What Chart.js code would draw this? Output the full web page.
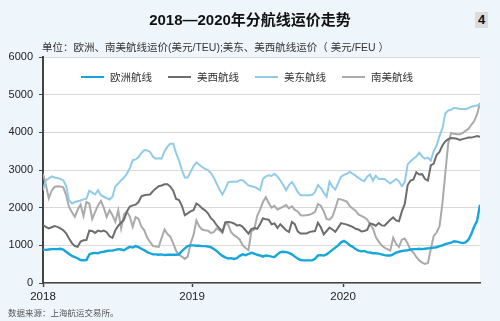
<!DOCTYPE html>
<html lang="zh">
<head>
<meta charset="utf-8">
<title>2018—2020年分航线运价走势</title>
<script src="https://cdn.jsdelivr.net/npm/chart.js@4.4.1/dist/chart.umd.min.js"></script>
<style>
    body { margin: 0; background: #eef6fb; }
    #contenedor { position: relative; width: 500px; height: 321px; overflow: hidden; font-family: "Liberation Sans", "Noto Sans CJK SC", sans-serif; color: #222; }
    #grafico { position: absolute; left: 0; top: 0; }
    .texto { position: absolute; white-space: nowrap; }
    #titulo { left: 0; width: 500px; top: 11px; text-align: center; font-size: 15px; line-height: 18px; font-weight: bold; color: #111; }
    #numero { left: 475px; top: 12px; width: 13px; height: 16px; line-height: 16px; text-align: center; background: #dcdcdc; font-weight: bold; font-size: 13px; color: #111; }
    #unidad { left: 42px; top: 40px; font-size: 10.5px; line-height: 14px; color: #333; }
    #leyenda { left: 81px; top: 70px; display: flex; font-size: 10.5px; line-height: 14px; color: #333; }
    .item { display: flex; align-items: center; margin-right: 16px; }
    .muestra { display: inline-block; width: 23px; height: 2px; margin-right: 6px; }
    #fuente { left: 8px; top: 307px; font-size: 8.5px; line-height: 12px; color: #555; }
</style>
</head>
<body>
<div id="contenedor">
    <canvas id="grafico" width="500" height="321"></canvas>
    <div id="titulo" class="texto">2018—2020年分航线运价走势</div>
    <div id="numero" class="texto">4</div>
    <div id="unidad" class="texto">单位：欧洲、南美航线运价(美元/TEU);美东、美西航线运价（ 美元/FEU ）</div>
    <div id="leyenda" class="texto"></div>
    <div id="fuente" class="texto">数据来源：上海航运交易所。</div>
</div>
<script>
// series semanales desde la primera semana de 2018
const categorias = ["欧洲航线", "美西航线", "美东航线", "南美航线"]
const anios = ["2018", "2019", "2020"]
const semanaInicioAnio = [0, 51.5, 103.7]

const europa = [
    890, 880, 890, 900, 900, 900, 910, 890, 830, 770,
    720, 690, 650, 610, 600, 610, 760, 790, 800, 790,
    820, 830, 850, 860, 860, 880, 900, 890, 870, 920,
    960, 940, 980, 950, 910, 870, 820, 790, 760, 760,
    750, 760, 740, 750, 750, 750, 750, 760, 850, 920,
    980, 1000, 1000, 990, 990, 980, 980, 970, 950, 900,
    850, 780, 720, 680, 650, 660, 640, 660, 720, 760,
    740, 770, 800, 780, 750, 730, 700, 730, 720, 700,
    690, 760, 820, 830, 820, 800, 760, 700, 650, 610,
    600, 600, 600, 600, 640, 730, 740, 730, 760, 820,
    880, 940, 1000, 1080, 1120, 1070, 1000, 960, 900, 860,
    840, 850, 820, 810, 790, 790, 780, 760, 740, 730,
    730, 760, 810, 830, 850, 860, 870, 890, 900, 900,
    910, 900, 910, 920, 930, 940, 950, 980, 1000, 1030,
    1050, 1070, 1110, 1100, 1080, 1060, 1080, 1150, 1300, 1500,
    1650, 2080
]

const oesteEEUU = [
    1535, 1490, 1450, 1480, 1510, 1490, 1450, 1400, 1320, 1180,
    1060, 980, 960, 1100, 1135, 1140, 1390, 1380, 1330, 1390,
    1370, 1390, 1350, 1240, 1200, 1400, 1520, 1600, 1680, 1900,
    2030, 2060, 2080, 2150, 2300, 2330, 2340, 2350, 2440, 2510,
    2570, 2590, 2620, 2620, 2560, 2450, 2230, 2200, 2050, 1800,
    1850, 1900, 1930, 2110, 2060, 1980, 1930, 1850, 1720, 1650,
    1534, 1450, 1360, 1610, 1620, 1610, 1580, 1530, 1540, 1490,
    1400, 1310, 1430, 1460, 1440, 1560, 1720, 1690, 1680, 1560,
    1580, 1460, 1560, 1480, 1400, 1356, 1620, 1560, 1370, 1312,
    1312, 1312, 1350, 1370, 1380, 1600, 1480, 1290, 1380, 1470,
    1420, 1360, 1470, 1590, 1570, 1550, 1520, 1490, 1440, 1420,
    1370, 1380, 1410, 1580, 1560, 1520, 1590, 1530, 1520, 1600,
    1680, 1740, 1660, 1640, 1900, 2100, 2600, 2720, 2750, 2940,
    2880, 2890, 2760, 2720, 3120, 3170, 3400, 3480, 3650, 3760,
    3820, 3850, 3840, 3830, 3800, 3820, 3840, 3860, 3860, 3880,
    3900, 3880
]

const esteEEUU = [
    2465, 2730, 2775, 2830, 2800, 2790, 2760, 2730, 2570, 2200,
    2110, 2150, 2170, 2190, 2220, 2240, 2450, 2400, 2350, 2465,
    2330, 2290, 2250, 2217, 2290, 2570, 2640, 2730, 2800, 2900,
    3050, 3260, 3280, 3340, 3450, 3530, 3520, 3480, 3350, 3300,
    3310, 3300, 3500, 3620, 3700, 3700, 3450, 3250, 3000, 2800,
    2800, 2950, 3100, 3200, 3140, 3080, 3030, 3000, 2920, 2800,
    2640, 2480, 2350, 2500, 2680, 2690, 2690, 2690, 2730, 2730,
    2660, 2590, 2570, 2550, 2510, 2465, 2760, 2830, 2860, 2840,
    2900, 2830, 2720, 2600, 2465, 2600, 2680, 2560, 2420, 2330,
    2330, 2330, 2330, 2340, 2420, 2600, 2520, 2400, 2290, 2690,
    2560, 2480, 2650, 2820, 2870, 2900, 2950, 2900, 2850, 2790,
    2740, 2700, 2820, 2880, 2720, 2850, 2760, 2770, 2760, 2700,
    2640, 2700, 2760, 2700, 2570, 2680, 3150, 3230, 3300, 3360,
    3460, 3360, 3300, 3330, 3250, 3500, 3650, 3900, 4100, 4500,
    4580, 4600, 4650, 4640, 4620, 4620, 4620, 4640, 4680, 4700,
    4710, 4750
]

const sudamerica = [
    2910, 2600, 2250, 2450, 2550, 2570, 2560, 2540, 2330, 2020,
    1880, 1760, 1950, 2080, 1780, 2150, 2110, 1700, 1880, 2060,
    2180, 2000, 1755, 1930, 1800, 1620, 1930, 1450, 1820, 1900,
    1760, 1490, 1750, 1700, 1500, 1400, 1200, 1090, 980, 970,
    960, 1200, 1420, 1300, 1230, 1050, 850, 750, 700, 640,
    700, 1050, 1270, 1660, 1500, 1420, 1400, 1390, 1330, 1350,
    1450, 1400, 1330, 1600, 1550, 1350, 1270, 1220, 1150, 1000,
    930, 870, 1380, 1420, 1780, 1950, 2150, 2280, 2120, 2000,
    2050, 1950, 1990, 2030, 2070, 1980, 2040, 1940, 1900, 1800,
    1790, 1800, 1810, 1840, 1890, 2100, 2050, 1900, 1700, 1680,
    1760, 1980, 2230, 2220, 2190, 2160, 2040, 1980, 1920, 1820,
    1780, 1740, 1690, 1560, 1450, 1220, 1100, 1000, 940, 900,
    860, 1200, 1040, 960, 1150, 1180, 1050, 880, 810, 690,
    600, 540, 505, 530, 900, 1250, 1340, 1500, 2100, 2900,
    3700, 3980, 3960, 3950, 3950, 3980, 4040, 4090, 4200, 4300,
    4480, 4780
]

const valores = [europa, oesteEEUU, esteEEUU, sudamerica]
const colores = ["#15a6da", "#6d6d6d", "#92cbe8", "#aaaaaa"]

Chart.defaults.font.family = '"Liberation Sans", "Noto Sans CJK SC", sans-serif'

const fondoBlanco = {
    id: "fondoBlanco",
    beforeDraw(chart) {
        const { ctx, chartArea } = chart
        ctx.save()
        ctx.fillStyle = "#ffffff"
        ctx.fillRect(chartArea.left, chartArea.top, chartArea.right - chartArea.left, chartArea.bottom - chartArea.top)
        ctx.restore()
    }
}

const grafico = new Chart(document.querySelector("#grafico"), {
    type: "line",
    data: {
        datasets: categorias.map((nombre, i) => ({
            label: nombre,
            data: valores[i].map((v, semana) => ({ x: semana, y: v })),
            borderColor: colores[i],
            backgroundColor: colores[i],
            borderWidth: i === 0 ? 2.4 : 2,
            pointRadius: 0,
            tension: 0,
            fill: false
        }))
    },
    options: {
        responsive: false,
        animation: false,
        devicePixelRatio: 1,
        layout: { padding: { top: 57, right: 20, bottom: 14, left: 0 } },
        plugins: {
            legend: { display: false },
            tooltip: { enabled: false }
        },
        scales: {
            x: {
                type: "linear",
                min: 0,
                max: 151,
                afterBuildTicks: (eje) => { eje.ticks = semanaInicioAnio.map(v => ({ value: v })) },
                afterFit: (eje) => { eje.height = 24 },
                ticks: {
                    autoSkip: false,
                    maxRotation: 0,
                    padding: 3,
                    color: "#222",
                    font: { size: 11.5 },
                    callback: (v, i) => anios[i]
                },
                grid: { drawOnChartArea: false, tickLength: 4, tickColor: "#444", tickWidth: 1.5 },
                border: { color: "#444", width: 1.5 }
            },
            y: {
                min: 0,
                max: 6000,
                afterFit: (eje) => { eje.width = 43 },
                ticks: { stepSize: 1000, padding: 6, color: "#222", font: { size: 11 }, callback: (v) => String(v) },
                grid: { color: "#dadada", lineWidth: 1, tickLength: 4, tickColor: "#444" },
                border: { color: "#444", width: 2 }
            }
        }
    },
    plugins: [fondoBlanco]
})

// leyenda en html dentro del área blanca
const leyenda = document.querySelector("#leyenda")
leyenda.innerHTML = Chart.defaults.plugins.legend.labels.generateLabels(grafico)
    .map(item => `<span class="item"><span class="muestra" style="background:${item.strokeStyle}"></span>${item.text}</span>`)
    .join("")
</script>
</body>
</html>
